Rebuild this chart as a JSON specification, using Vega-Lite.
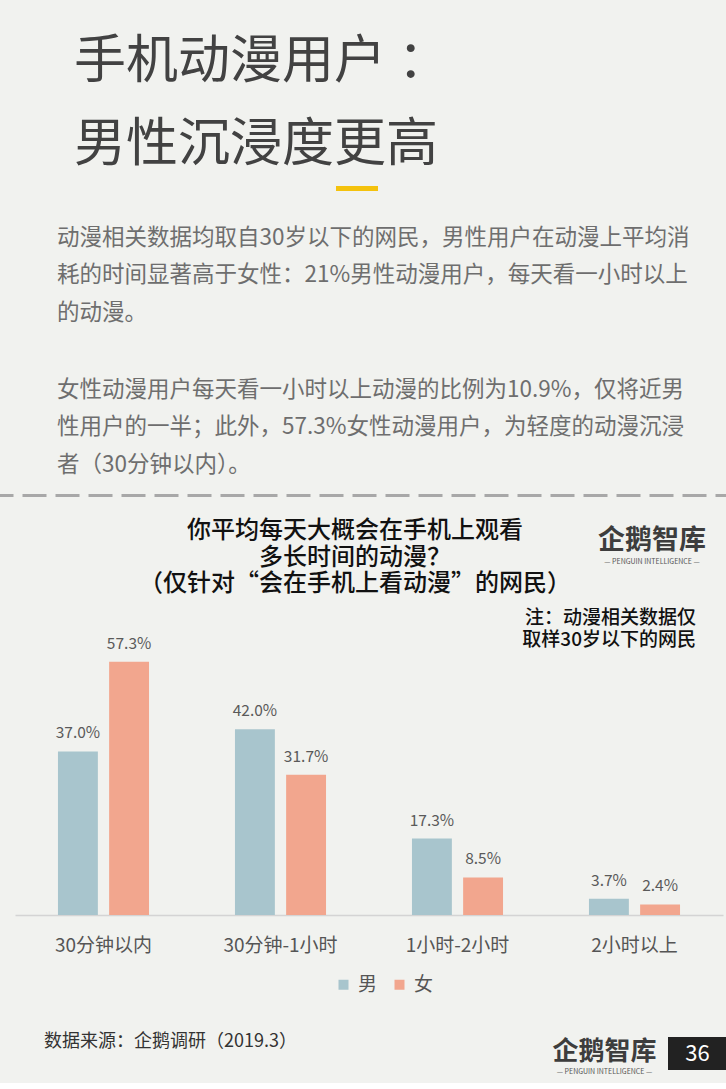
{
  "$schema": "https://vega.github.io/schema/vega-lite/v6.json",
  "background": "#f1f2ef",
  "padding": {"top": 36, "left": 0, "right": 0, "bottom": 8},
  "spacing": 0,
  "resolve": {"legend": {"color": "independent"}},
  "config": {
    "font": "Noto Sans CJK SC",
    "view": {"stroke": null},
    "title": {"font": "Noto Sans CJK SC", "subtitleFont": "Noto Sans CJK SC"}
  },
  "datasets": {
    "bars": [
      {"time": "30分钟以内", "gender": "男", "value": 0.370},
      {"time": "30分钟以内", "gender": "女", "value": 0.573},
      {"time": "30分钟-1小时", "gender": "男", "value": 0.420},
      {"time": "30分钟-1小时", "gender": "女", "value": 0.317},
      {"time": "1小时-2小时", "gender": "男", "value": 0.173},
      {"time": "1小时-2小时", "gender": "女", "value": 0.085},
      {"time": "2小时以上", "gender": "男", "value": 0.037},
      {"time": "2小时以上", "gender": "女", "value": 0.024}
    ],
    "page": [{"page": "36"}]
  },
  "vconcat": [
    {
      "width": 726, "height": 14,
      "data": {"name": "page"},
      "mark": {"type": "rect", "opacity": 0},
      "encoding": {},
      "title": {
        "text": ["手机动漫用户 ：", "男性沉浸度更高"],
        "anchor": "start", "frame": "group", "dx": 73, "offset": 0,
        "fontSize": 52, "lineHeight": 83, "fontWeight": "normal", "color": "#424242"
      }
    },
    {
      "spacing": 0,
      "hconcat": [
        {"width": 335, "height": 38, "data": {"name": "page"}, "mark": {"type": "rect", "opacity": 0}, "encoding": {}},
        {"width": 38, "height": 1, "view": {"stroke": "#f4c20d", "strokeWidth": 4}, "data": {"name": "page"}, "mark": {"type": "rect", "opacity": 0}, "encoding": {}}
      ]
    },
    {
      "width": 726, "height": 54,
      "data": {"name": "page"},
      "mark": {"type": "rect", "opacity": 0},
      "encoding": {},
      "title": {
        "text": [
          "动漫相关数据均取自30岁以下的网民，男性用户在动漫上平均消",
          "耗的时间显著高于女性：21%男性动漫用户，每天看一小时以上",
          "的动漫。"
        ],
        "anchor": "start", "frame": "group", "dx": 56, "offset": 0,
        "fontSize": 22.5, "lineHeight": 37.5, "fontWeight": "normal", "color": "#6e6e6e"
      }
    },
    {
      "width": 726, "height": 18,
      "data": {"name": "page"},
      "mark": {"type": "rect", "opacity": 0},
      "encoding": {},
      "title": {
        "text": [
          "女性动漫用户每天看一小时以上动漫的比例为10.9%，仅将近男",
          "性用户的一半；此外，57.3%女性动漫用户，为轻度的动漫沉浸",
          "者（30分钟以内）。"
        ],
        "anchor": "start", "frame": "group", "dx": 56, "offset": 0,
        "fontSize": 22.5, "lineHeight": 37.5, "fontWeight": "normal", "color": "#6e6e6e"
      }
    },
    {
      "spacing": 0,
      "hconcat": [
        {"width": 726, "height": 1, "view": {"stroke": "#a8a8a8", "strokeWidth": 2, "strokeDash": [24, 9], "strokeDashOffset": 11.5}, "data": {"name": "page"}, "mark": {"type": "rect", "opacity": 0}, "encoding": {}},
        {"width": 1, "height": 24, "data": {"name": "page"}, "mark": {"type": "rect", "opacity": 0}, "encoding": {}}
      ]
    },
    {
      "spacing": 0,
      "hconcat": [
        {
          "width": 580, "height": 12,
          "data": {"name": "page"},
          "mark": {"type": "rect", "opacity": 0},
          "encoding": {},
          "title": {
            "text": ["你平均每天大概会在手机上观看", "多长时间的动漫？", "（仅针对“会在手机上看动漫”的网民）"],
            "anchor": "middle", "frame": "group", "dx": 64, "offset": 0,
            "fontSize": 24, "lineHeight": 26.5, "fontWeight": 500, "color": "#111111"
          }
        },
        {
          "width": 146, "height": 12,
          "data": {"name": "page"},
          "mark": {"type": "rect", "opacity": 0},
          "encoding": {},
          "title": {
            "text": "企鹅智库",
            "subtitle": "— PENGUIN INTELLIGENCE —",
            "anchor": "middle", "frame": "group", "dx": -2, "offset": 30,
            "fontSize": 27, "fontWeight": "bold", "color": "#3d3d3d",
            "subtitleFontSize": 7, "subtitleColor": "#555555", "subtitlePadding": 3
          }
        }
      ]
    },
    {
      "spacing": 0,
      "resolve": {"legend": {"color": "independent"}},
      "hconcat": [
        {"width": 14, "height": 1, "data": {"name": "page"}, "mark": {"type": "rect", "opacity": 0}, "encoding": {}},
        {
          "width": 708, "height": 283,
          "data": {"name": "bars"},
          "title": {
            "text": ["注：动漫相关数据仅", "取样30岁以下的网民"],
            "anchor": "end", "frame": "group", "dx": -27, "offset": -18,
            "fontSize": 19, "lineHeight": 22.5, "fontWeight": 500, "color": "#111111"
          },
          "encoding": {
            "x": {
              "field": "time", "type": "nominal",
              "sort": ["30分钟以内", "30分钟-1小时", "1小时-2小时", "2小时以上"],
              "scale": {"paddingInner": 0, "paddingOuter": 0},
              "axis": {"title": null, "labelAngle": 0, "ticks": false, "labelPadding": 21, "labelFontSize": 19, "labelColor": "#555555", "domainColor": "#d4d4d4", "domainWidth": 1.5}
            },
            "xOffset": {"field": "gender", "type": "nominal", "sort": ["男", "女"], "scale": {"paddingInner": 0.22, "paddingOuter": 0.84}},
            "y": {"field": "value", "type": "quantitative", "scale": {"domain": [0, 0.64]}, "axis": null}
          },
          "layer": [
            {
              "mark": {"type": "bar"},
              "encoding": {
                "color": {
                  "field": "gender", "type": "nominal",
                  "scale": {"domain": ["男", "女"], "range": ["#a8c5cd", "#f2a68e"]},
                  "legend": {"orient": "none", "legendX": 319, "legendY": 343, "direction": "horizontal", "title": null, "symbolType": "square", "symbolSize": 100, "symbolStrokeWidth": 0, "labelFontSize": 19, "labelColor": "#555555", "columnPadding": 12, "labelOffset": 5}
                }
              }
            },
            {
              "mark": {"type": "text", "baseline": "bottom", "dy": -10, "fontSize": 15.5, "color": "#5a5a5a"},
              "encoding": {"text": {"field": "value", "type": "quantitative", "format": ".1%"}}
            }
          ]
        }
      ]
    },
    {"width": 726, "height": 38, "data": {"name": "page"}, "mark": {"type": "rect", "opacity": 0}, "encoding": {}},
    {
      "spacing": 0,
      "hconcat": [
        {
          "width": 540, "height": 33,
          "data": {"name": "page"},
          "mark": {"type": "rect", "opacity": 0},
          "encoding": {},
          "title": {
            "text": "数据来源：企鹅调研（2019.3）",
            "anchor": "start", "frame": "group", "dx": 43, "offset": -14,
            "fontSize": 18, "fontWeight": "normal", "color": "#333333"
          }
        },
        {
          "width": 127, "height": 33,
          "data": {"name": "page"},
          "mark": {"type": "rect", "opacity": 0},
          "encoding": {},
          "title": {
            "text": "企鹅智库",
            "subtitle": "— PENGUIN INTELLIGENCE —",
            "anchor": "middle", "frame": "group", "offset": -38,
            "fontSize": 26, "fontWeight": "bold", "color": "#3d3d3d",
            "subtitleFontSize": 7, "subtitleColor": "#555555", "subtitlePadding": 3
          }
        },
        {
          "width": 59, "height": 33,
          "view": {"fill": "#222222"},
          "data": {"name": "page"},
          "mark": {"type": "text", "color": "white", "fontSize": 22},
          "encoding": {"text": {"field": "page", "type": "nominal"}}
        }
      ]
    }
  ]
}
